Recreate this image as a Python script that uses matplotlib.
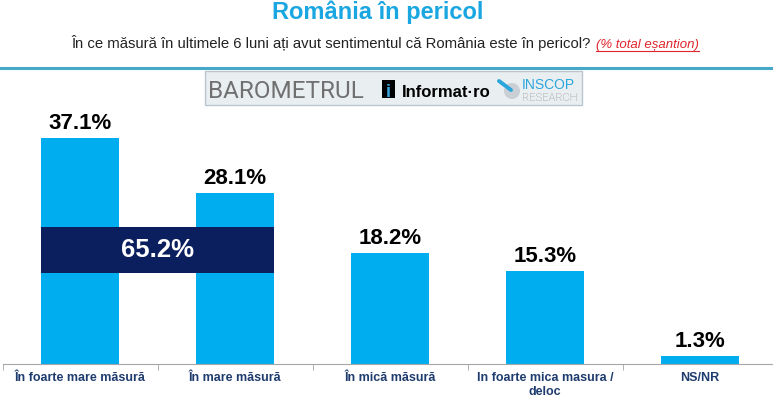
import numpy as np
import matplotlib
matplotlib.use("Agg")
import matplotlib.pyplot as plt
from matplotlib.patches import Rectangle, Circle
from matplotlib.lines import Line2D
from matplotlib.transforms import IdentityTransform

categories = ["În foarte mare măsură", "În mare măsură", "În mică măsură",
              "In foarte mica masura /\ndeloc", "NS/NR"]
values = [37.1, 28.1, 18.2, 15.3, 1.3]
combined_idx = [0, 1]   # the two "mare" answers summed in the dark band

W, H = 773, 398
NARROW = ["Liberation Sans Narrow", "Liberation Sans", "DejaVu Sans"]
ARIAL = ["Liberation Sans", "DejaVu Sans"]
BLUE = "#00aeef"
NAVY = "#0b1f5e"


def px(x, y):
    # pixel (from top-left) -> figure fraction
    return x / W, 1 - y / H


def pxi(x, y):
    # pixel (from top-left) -> display pixels
    return x, H - y


fig = plt.figure(figsize=(W / 100, H / 100), dpi=100)
fig.patch.set_facecolor("white")

# ---- header ----
fig.text(*px(378, 12), "România în pericol", family=NARROW, weight="bold",
         size=17, color="#1aa7e1", ha="center", va="center")

sub = fig.text(*px(591, 48), "În ce măsură în ultimele 6 luni ați avut sentimentul că România este în pericol?",
               family=NARROW, size=10.7, color="#222222", ha="right", va="baseline")
red = fig.text(*px(596, 48), "(% total eșantion)", family=ARIAL, style="italic",
               size=9.5, color="#e0242c", ha="left", va="baseline")
fig.canvas.draw()
bb = red.get_window_extent()
fig.add_artist(Line2D([bb.x0 / W, bb.x1 / W], [1 - 50.5 / H] * 2, color="#e0242c", lw=0.8))

fig.add_artist(Line2D([0, 1], [1 - 68 / H] * 2, color="#45a8c8", lw=2.2))

# ---- logo strip ----
fig.add_artist(Rectangle(px(205, 105), 377 / W, 34 / H, facecolor="#e9eef1",
                         edgecolor="#b9c6cd", lw=1))
fig.text(*px(208, 98), "BAROMETRUL", family=["Roboto", "DejaVu Sans"],
         size=17.5, color="#707070", ha="left", va="baseline")
fig.add_artist(Rectangle(px(382, 98), 13 / W, 18 / H, facecolor="black", edgecolor="none"))
fig.text(*px(388.5, 97), "i", family=ARIAL, weight="bold", size=13, color="#3aa9e0",
         ha="center", va="baseline")
fig.text(*px(402, 97), "Informat·ro", family=ARIAL, weight="bold", size=12,
         color="black", ha="left", va="baseline")
fig.add_artist(Circle(pxi(512, 91), 8, facecolor="#c9cfd4", edgecolor="none",
                      transform=IdentityTransform()))
fig.add_artist(Line2D([499, 511], [H - 81, H - 90], color="#2aa6dc", lw=2.8,
                      solid_capstyle="round", transform=IdentityTransform()))
fig.text(*px(522, 89), "INSCOP", family=ARIAL, size=10, color="#2aa6dc",
         ha="left", va="baseline")
fig.text(*px(522, 101), "RESEARCH", family=["Roboto", "DejaVu Sans"], weight="light",
         size=8, color="#8a8a8a", ha="left", va="baseline")

# ---- bars ----
ymax = 40
ax = fig.add_axes([2.5 / W, 34 / H, 775 / W, ymax * 6.09 / H])
x = np.arange(len(categories))
bw = 0.5
bars = ax.bar(x, values, width=bw, color=BLUE, zorder=2)
for xi, v in zip(x, values):
    ax.annotate(f"{v:.1f}%", (xi, v), xytext=(0, 6.5), textcoords="offset points",
                ha="center", va="baseline", family=ARIAL, weight="bold", size=16, color="black")

# dark band with the summed share
band_lo, band_hi = 14.9, 22.5
x0 = x[combined_idx[0]] - bw / 2
x1 = x[combined_idx[-1]] + bw / 2
ax.add_patch(Rectangle((x0, band_lo), x1 - x0, band_hi - band_lo, facecolor=NAVY,
                       edgecolor="none", zorder=3))
total = sum(values[i] for i in combined_idx)
ax.text((x0 + x1) / 2, (band_lo + band_hi) / 2, f"{total:.1f}%", ha="center", va="center",
        family=ARIAL, weight="bold", size=18.5, color="white", zorder=4)

ax.set_xlim(-0.5, len(categories) - 0.5)
ax.set_ylim(0, ymax)
ax.set_yticks([])
for s in ["top", "right", "left"]:
    ax.spines[s].set_visible(False)
ax.spines["bottom"].set_color("#a6a6a6")
ax.set_xticks(x)
ax.set_xticklabels(categories, family=NARROW, weight="bold", size=9, color="#1f3c6e",
                   linespacing=1.2)
ax.tick_params(axis="x", which="major", length=0, pad=6)
ax.set_xticks(np.arange(-0.5, len(categories)), minor=True)
ax.tick_params(axis="x", which="minor", length=4, color="#a6a6a6", direction="out")
ax.patch.set_alpha(0)

fig.savefig("out.png", dpi=100)
